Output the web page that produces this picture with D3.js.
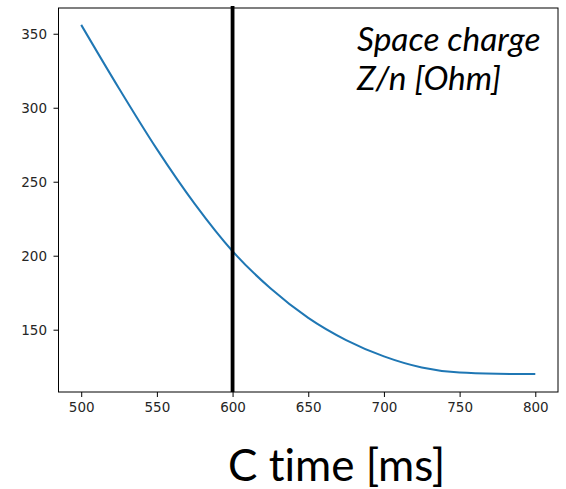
<!DOCTYPE html>
<html lang="en">
  <head>
    <meta charset="utf-8">
    <title>Space charge Z/n</title>
    <script src="https://d3js.org/d3.v7.min.js"></script>
    <style type="text/css">
        body {
          margin: 0;
          background: #fff;
        }
        .tick text {
          font: 13.5px "DejaVu Sans", sans-serif;
          fill: #262626;
        }
        .tick line {
          stroke: #000;
        }
        .note {
          font-family: Lato, "Open Sans", sans-serif;
          font-variant-ligatures: none;
          fill: #000;
        }
    </style>
  </head>
  <body>
    <div id="chart"></div>
    <script>
        // C time [ms] vs space charge Z/n [Ohm]
        var times = [500, 525, 550, 575, 600, 625, 650, 675, 700, 725, 750, 775, 800];
        var zn = [356, 313, 272, 235, 203, 178, 158, 143, 132, 124.5, 121, 120.2, 120];
        var xTicks = [500, 550, 600, 650, 700, 750, 800];
        var yTicks = [150, 200, 250, 300, 350];
        var cTime = 600;

        var width = 566, height = 489;
        var box = {left: 58.5, right: 558, top: 8, bottom: 392};

        var svg = d3.select("#chart").append("svg")
            .attr("width", width)
            .attr("height", height);

        var x = d3.scaleLinear().domain([485, 815]).range([box.left, box.right]);
        var y = d3.scaleLinear().domain([107.9, 367.4]).range([box.bottom, box.top]);

        var line = d3.line()
            .x(function(d, i) { return x(times[i]); })
            .y(function(d) { return y(d); })
            .curve(d3.curveMonotoneX);

        svg.append("path")
            .datum(zn)
            .attr("d", line)
            .attr("fill", "none")
            .attr("stroke", "#1f77b4")
            .attr("stroke-width", 2);

        // marker at the chosen C time
        svg.append("line")
            .attr("x1", x(cTime)).attr("x2", x(cTime))
            .attr("y1", box.top - 2).attr("y2", box.bottom)
            .attr("stroke", "#000")
            .attr("stroke-width", 3.8);

        svg.append("g")
            .attr("transform", "translate(0," + box.bottom + ")")
            .call(d3.axisBottom(x).tickValues(xTicks).tickSize(5).tickPadding(5).tickFormat(d3.format("d")))
            .call(function(g) { g.select(".domain").remove(); });

        svg.append("g")
            .attr("transform", "translate(" + box.left + ",0)")
            .call(d3.axisLeft(y).tickValues(yTicks).tickSize(5).tickPadding(6.5).tickFormat(d3.format("d")))
            .call(function(g) { g.select(".domain").remove(); });

        svg.append("rect")
            .attr("x", box.left).attr("y", box.top)
            .attr("width", box.right - box.left)
            .attr("height", box.bottom - box.top)
            .attr("fill", "none")
            .attr("stroke", "#000")
            .attr("stroke-width", 1);

        svg.append("text")
            .attr("class", "note")
            .attr("x", 357).attr("y", 51)
            .style("font-size", "33.5px")
            .style("font-style", "italic")
            .text("Space charge");

        svg.append("text")
            .attr("class", "note")
            .attr("x", 357).attr("y", 90)
            .style("font-size", "33.5px")
            .style("font-style", "italic")
            .text("Z/n [Ohm]");

        svg.append("text")
            .attr("class", "note")
            .attr("x", 228).attr("y", 481)
            .style("font-size", "44px")
            .text("C time [ms]");
    </script>
  </body>
</html>
